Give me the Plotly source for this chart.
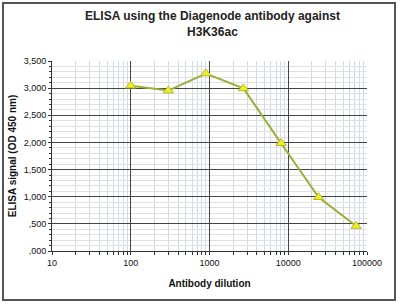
import plotly.graph_objects as go

dilution = [100, 300, 900, 2700, 8100, 24300, 72900]
signal = [3045, 2955, 3270, 2995, 1985, 990, 460]
y_tick_vals = [0, 500, 1000, 1500, 2000, 2500, 3000, 3500]
y_tick_text = [",000", ",500", "1,000", "1,500", "2,000", "2,500", "3,000", "3,500"]
x_tick_vals = [10, 100, 1000, 10000, 100000]
x_tick_text = ["10", "100", "1000", "10000", "100000"]

font = "Liberation Sans, Arial, sans-serif"

fig = go.Figure()
fig.add_trace(go.Scatter(
    x=dilution, y=signal, mode="lines+markers",
    line=dict(color="#9aae3a", width=2),
    marker=dict(symbol="triangle-up", size=9, color="#f0f020",
                line=dict(color="#b8b830", width=1)),
    showlegend=False,
))

L, R, T, B = 52, 33, 61, 53
pw, ph = 400 - L - R, 304 - T - B

fig.update_layout(
    width=400, height=304,
    margin=dict(l=L, r=R, t=T, b=B),
    paper_bgcolor="white", plot_bgcolor="white",
    font=dict(family=font, size=9, color="#222"),
    xaxis=dict(
        type="log", range=[1, 5], tickvals=x_tick_vals, ticktext=x_tick_text,
        showgrid=True, gridcolor="#444", gridwidth=1,
        showline=True, linecolor="#333", linewidth=1,
        ticks="outside", ticklen=3, tickcolor="#333",
        tickfont=dict(size=9, family=font, color="#111"),
        minor=dict(dtick="D1", showgrid=True, gridcolor="#cddbea", gridwidth=1,
                   ticks="outside", ticklen=3, tickcolor="#333"),
        title=dict(text="<b>Antibody dilution</b>", font=dict(size=10, family=font, color="#111"),
                   standoff=13),
        zeroline=False,
    ),
    yaxis=dict(
        range=[0, 3500], tickvals=y_tick_vals, ticktext=y_tick_text,
        showgrid=True, gridcolor="#444", gridwidth=1,
        showline=True, linecolor="#333", linewidth=1,
        ticks="outside", ticklen=3, tickcolor="#333",
        tickfont=dict(size=9, family=font, color="#111"),
        minor=dict(dtick=100, showgrid=True, gridcolor="#e0e0e0", gridwidth=1,
                   ticks="outside", ticklen=2, tickcolor="#333"),
        title=dict(text="<b>ELISA signal (OD 450 nm)</b>", font=dict(size=10, family=font, color="#111"),
                   standoff=5),
        zeroline=False,
    ),
)

fig.add_annotation(
    text="<b>ELISA using the Diagenode antibody against<br>H3K36ac</b>",
    xref="paper", yref="paper",
    x=(212 - L) / pw, y=(304 - B - 7) / ph,
    xanchor="center", yanchor="top", showarrow=False,
    font=dict(size=12, color="#222", family=font),
)

# outer chart border
fig.add_shape(type="rect", xref="paper", yref="paper",
              x0=(3 - L) / pw, x1=(395 - L) / pw,
              y0=(304 - B - 300) / ph, y1=(304 - B - 3) / ph,
              line=dict(color="#555", width=2), fillcolor="rgba(0,0,0,0)", layer="below")

fig.write_html("out.html")
